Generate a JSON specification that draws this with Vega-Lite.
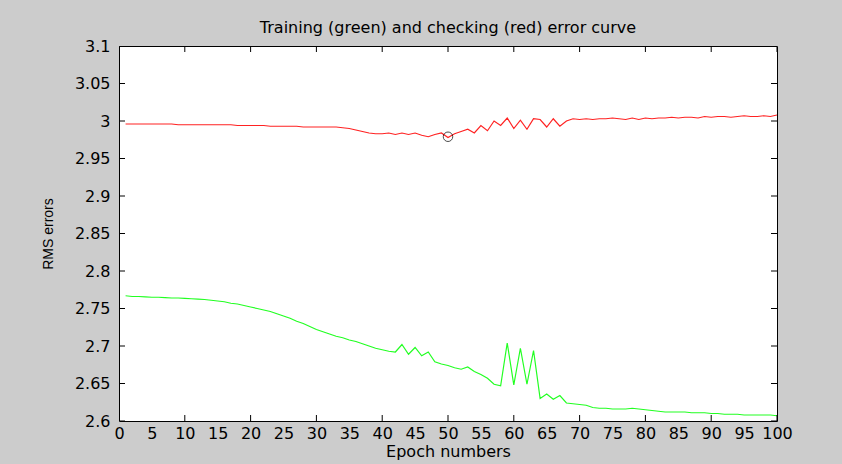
{
  "$schema": "https://vega.github.io/schema/vega-lite/v6.json",
  "width": 658,
  "height": 375,
  "autosize": "none",
  "padding": {"left": 119, "top": 46, "right": 65, "bottom": 43},
  "background": "#cccccc",
  "title": {"text": "Training (green) and checking (red) error curve", "font": "DejaVu Sans", "fontSize": 16, "fontWeight": "normal", "color": "#000000", "offset": 2, "anchor": "middle"},
  "config": {
    "view": {"fill": "#ffffff", "stroke": "#000000", "strokeWidth": 1},
    "axis": {"domain": false, "ticks": false, "tickSize": 0, "grid": false, "labelColor": "#000000", "titleColor": "#000000", "labelFont": "DejaVu Sans", "titleFont": "DejaVu Sans", "labelFontSize": 16, "titleFontSize": 16, "titleFontWeight": "normal", "labelFlush": false, "labelOverlap": false, "zindex": 3},
    "axisX": {"orient": "bottom", "title": "Epoch numbers", "values": [0,10,20,30,40,50,60,70,80,90,100], "labelPadding": 4, "titlePadding": 2},
    "axisY": {"orient": "left", "title": "RMS errors", "titleFont": "Liberation Sans", "titleFontSize": 14, "format": "~g", "values": [2.6,2.65,2.7,2.75,2.8,2.85,2.9,2.95,3.0,3.05,3.1], "labelPadding": 9, "titlePadding": 19}
  },
  "datasets": {
    "curves": [
      {"epoch":1,"series":"training","rms":2.767},{"epoch":2,"series":"training","rms":2.766},{"epoch":3,"series":"training","rms":2.766},{"epoch":4,"series":"training","rms":2.7655},{"epoch":5,"series":"training","rms":2.765},{"epoch":6,"series":"training","rms":2.765},{"epoch":7,"series":"training","rms":2.7645},{"epoch":8,"series":"training","rms":2.764},{"epoch":9,"series":"training","rms":2.764},{"epoch":10,"series":"training","rms":2.7635},
      {"epoch":11,"series":"training","rms":2.763},{"epoch":12,"series":"training","rms":2.7625},{"epoch":13,"series":"training","rms":2.762},{"epoch":14,"series":"training","rms":2.761},{"epoch":15,"series":"training","rms":2.76},{"epoch":16,"series":"training","rms":2.759},{"epoch":17,"series":"training","rms":2.757},{"epoch":18,"series":"training","rms":2.756},{"epoch":19,"series":"training","rms":2.754},{"epoch":20,"series":"training","rms":2.752},
      {"epoch":21,"series":"training","rms":2.75},{"epoch":22,"series":"training","rms":2.748},{"epoch":23,"series":"training","rms":2.746},{"epoch":24,"series":"training","rms":2.743},{"epoch":25,"series":"training","rms":2.74},{"epoch":26,"series":"training","rms":2.737},{"epoch":27,"series":"training","rms":2.733},{"epoch":28,"series":"training","rms":2.73},{"epoch":29,"series":"training","rms":2.726},{"epoch":30,"series":"training","rms":2.722},
      {"epoch":31,"series":"training","rms":2.719},{"epoch":32,"series":"training","rms":2.716},{"epoch":33,"series":"training","rms":2.713},{"epoch":34,"series":"training","rms":2.711},{"epoch":35,"series":"training","rms":2.708},{"epoch":36,"series":"training","rms":2.706},{"epoch":37,"series":"training","rms":2.703},{"epoch":38,"series":"training","rms":2.7},{"epoch":39,"series":"training","rms":2.697},{"epoch":40,"series":"training","rms":2.695},
      {"epoch":41,"series":"training","rms":2.693},{"epoch":42,"series":"training","rms":2.692},{"epoch":43,"series":"training","rms":2.702},{"epoch":44,"series":"training","rms":2.689},{"epoch":45,"series":"training","rms":2.698},{"epoch":46,"series":"training","rms":2.687},{"epoch":47,"series":"training","rms":2.692},{"epoch":48,"series":"training","rms":2.679},{"epoch":49,"series":"training","rms":2.676},{"epoch":50,"series":"training","rms":2.674},
      {"epoch":51,"series":"training","rms":2.671},{"epoch":52,"series":"training","rms":2.669},{"epoch":53,"series":"training","rms":2.672},{"epoch":54,"series":"training","rms":2.666},{"epoch":55,"series":"training","rms":2.662},{"epoch":56,"series":"training","rms":2.657},{"epoch":57,"series":"training","rms":2.649},{"epoch":58,"series":"training","rms":2.647},{"epoch":59,"series":"training","rms":2.704},{"epoch":60,"series":"training","rms":2.648},
      {"epoch":61,"series":"training","rms":2.697},{"epoch":62,"series":"training","rms":2.649},{"epoch":63,"series":"training","rms":2.694},{"epoch":64,"series":"training","rms":2.63},{"epoch":65,"series":"training","rms":2.636},{"epoch":66,"series":"training","rms":2.629},{"epoch":67,"series":"training","rms":2.634},{"epoch":68,"series":"training","rms":2.624},{"epoch":69,"series":"training","rms":2.623},{"epoch":70,"series":"training","rms":2.622},
      {"epoch":71,"series":"training","rms":2.621},{"epoch":72,"series":"training","rms":2.618},{"epoch":73,"series":"training","rms":2.617},{"epoch":74,"series":"training","rms":2.617},{"epoch":75,"series":"training","rms":2.616},{"epoch":76,"series":"training","rms":2.616},{"epoch":77,"series":"training","rms":2.616},{"epoch":78,"series":"training","rms":2.617},{"epoch":79,"series":"training","rms":2.616},{"epoch":80,"series":"training","rms":2.615},
      {"epoch":81,"series":"training","rms":2.614},{"epoch":82,"series":"training","rms":2.613},{"epoch":83,"series":"training","rms":2.612},{"epoch":84,"series":"training","rms":2.612},{"epoch":85,"series":"training","rms":2.612},{"epoch":86,"series":"training","rms":2.612},{"epoch":87,"series":"training","rms":2.611},{"epoch":88,"series":"training","rms":2.611},{"epoch":89,"series":"training","rms":2.611},{"epoch":90,"series":"training","rms":2.61},
      {"epoch":91,"series":"training","rms":2.61},{"epoch":92,"series":"training","rms":2.609},{"epoch":93,"series":"training","rms":2.609},{"epoch":94,"series":"training","rms":2.609},{"epoch":95,"series":"training","rms":2.608},{"epoch":96,"series":"training","rms":2.608},{"epoch":97,"series":"training","rms":2.608},{"epoch":98,"series":"training","rms":2.608},{"epoch":99,"series":"training","rms":2.608},{"epoch":100,"series":"training","rms":2.607},
      {"epoch":1,"series":"checking","rms":2.996},{"epoch":2,"series":"checking","rms":2.996},{"epoch":3,"series":"checking","rms":2.996},{"epoch":4,"series":"checking","rms":2.996},{"epoch":5,"series":"checking","rms":2.996},{"epoch":6,"series":"checking","rms":2.996},{"epoch":7,"series":"checking","rms":2.996},{"epoch":8,"series":"checking","rms":2.996},{"epoch":9,"series":"checking","rms":2.995},{"epoch":10,"series":"checking","rms":2.995},
      {"epoch":11,"series":"checking","rms":2.995},{"epoch":12,"series":"checking","rms":2.995},{"epoch":13,"series":"checking","rms":2.995},{"epoch":14,"series":"checking","rms":2.995},{"epoch":15,"series":"checking","rms":2.995},{"epoch":16,"series":"checking","rms":2.995},{"epoch":17,"series":"checking","rms":2.995},{"epoch":18,"series":"checking","rms":2.994},{"epoch":19,"series":"checking","rms":2.994},{"epoch":20,"series":"checking","rms":2.994},
      {"epoch":21,"series":"checking","rms":2.994},{"epoch":22,"series":"checking","rms":2.994},{"epoch":23,"series":"checking","rms":2.993},{"epoch":24,"series":"checking","rms":2.993},{"epoch":25,"series":"checking","rms":2.993},{"epoch":26,"series":"checking","rms":2.993},{"epoch":27,"series":"checking","rms":2.993},{"epoch":28,"series":"checking","rms":2.992},{"epoch":29,"series":"checking","rms":2.992},{"epoch":30,"series":"checking","rms":2.992},
      {"epoch":31,"series":"checking","rms":2.992},{"epoch":32,"series":"checking","rms":2.992},{"epoch":33,"series":"checking","rms":2.992},{"epoch":34,"series":"checking","rms":2.991},{"epoch":35,"series":"checking","rms":2.99},{"epoch":36,"series":"checking","rms":2.988},{"epoch":37,"series":"checking","rms":2.986},{"epoch":38,"series":"checking","rms":2.984},{"epoch":39,"series":"checking","rms":2.983},{"epoch":40,"series":"checking","rms":2.983},
      {"epoch":41,"series":"checking","rms":2.984},{"epoch":42,"series":"checking","rms":2.982},{"epoch":43,"series":"checking","rms":2.984},{"epoch":44,"series":"checking","rms":2.982},{"epoch":45,"series":"checking","rms":2.984},{"epoch":46,"series":"checking","rms":2.981},{"epoch":47,"series":"checking","rms":2.979},{"epoch":48,"series":"checking","rms":2.982},{"epoch":49,"series":"checking","rms":2.984},{"epoch":50,"series":"checking","rms":2.978},
      {"epoch":51,"series":"checking","rms":2.983},{"epoch":52,"series":"checking","rms":2.986},{"epoch":53,"series":"checking","rms":2.989},{"epoch":54,"series":"checking","rms":2.984},{"epoch":55,"series":"checking","rms":2.994},{"epoch":56,"series":"checking","rms":2.987},{"epoch":57,"series":"checking","rms":3.0},{"epoch":58,"series":"checking","rms":2.994},{"epoch":59,"series":"checking","rms":3.004},{"epoch":60,"series":"checking","rms":2.99},
      {"epoch":61,"series":"checking","rms":3.001},{"epoch":62,"series":"checking","rms":2.989},{"epoch":63,"series":"checking","rms":3.003},{"epoch":64,"series":"checking","rms":3.002},{"epoch":65,"series":"checking","rms":2.992},{"epoch":66,"series":"checking","rms":3.003},{"epoch":67,"series":"checking","rms":2.993},{"epoch":68,"series":"checking","rms":3.0},{"epoch":69,"series":"checking","rms":3.003},{"epoch":70,"series":"checking","rms":3.002},
      {"epoch":71,"series":"checking","rms":3.003},{"epoch":72,"series":"checking","rms":3.002},{"epoch":73,"series":"checking","rms":3.003},{"epoch":74,"series":"checking","rms":3.003},{"epoch":75,"series":"checking","rms":3.004},{"epoch":76,"series":"checking","rms":3.003},{"epoch":77,"series":"checking","rms":3.002},{"epoch":78,"series":"checking","rms":3.004},{"epoch":79,"series":"checking","rms":3.002},{"epoch":80,"series":"checking","rms":3.004},
      {"epoch":81,"series":"checking","rms":3.003},{"epoch":82,"series":"checking","rms":3.004},{"epoch":83,"series":"checking","rms":3.004},{"epoch":84,"series":"checking","rms":3.005},{"epoch":85,"series":"checking","rms":3.004},{"epoch":86,"series":"checking","rms":3.005},{"epoch":87,"series":"checking","rms":3.005},{"epoch":88,"series":"checking","rms":3.004},{"epoch":89,"series":"checking","rms":3.006},{"epoch":90,"series":"checking","rms":3.005},
      {"epoch":91,"series":"checking","rms":3.006},{"epoch":92,"series":"checking","rms":3.006},{"epoch":93,"series":"checking","rms":3.005},{"epoch":94,"series":"checking","rms":3.006},{"epoch":95,"series":"checking","rms":3.007},{"epoch":96,"series":"checking","rms":3.006},{"epoch":97,"series":"checking","rms":3.006},{"epoch":98,"series":"checking","rms":3.007},{"epoch":99,"series":"checking","rms":3.006},{"epoch":100,"series":"checking","rms":3.008}
    ],
    "best": [{"epoch": 50, "rms": 2.979}],
    "xticks": [{"v": 0}, {"v": 10}, {"v": 20}, {"v": 30}, {"v": 40}, {"v": 50}, {"v": 60}, {"v": 70}, {"v": 80}, {"v": 90}, {"v": 100}],
    "yticks": [{"v": 2.6}, {"v": 2.65}, {"v": 2.7}, {"v": 2.75}, {"v": 2.8}, {"v": 2.85}, {"v": 2.9}, {"v": 2.95}, {"v": 3.0}, {"v": 3.05}, {"v": 3.1}]
  },
  "layer": [
    {
      "data": {"name": "curves"},
      "mark": {"type": "line", "strokeWidth": 1.2, "clip": true},
      "encoding": {
        "x": {"field": "epoch", "type": "quantitative", "title": "Epoch numbers", "scale": {"domain": [0, 100], "nice": false, "zero": false}},
        "y": {"field": "rms", "type": "quantitative", "title": "RMS errors", "scale": {"domain": [2.6, 3.1], "nice": false, "zero": false}},
        "color": {"field": "series", "type": "nominal", "scale": {"domain": ["training", "checking"], "range": ["#22ff22", "#ff2222"]}, "legend": null}
      }
    },
    {
      "data": {"name": "best"},
      "mark": {"type": "point", "shape": "circle", "size": 90, "filled": false, "stroke": "#000000", "strokeWidth": 1},
      "encoding": {
        "x": {"field": "epoch", "type": "quantitative", "title": "Epoch numbers"},
        "y": {"field": "rms", "type": "quantitative", "title": "RMS errors"}
      }
    },
    {
      "data": {"name": "xticks"},
      "mark": {"type": "tick", "orient": "vertical", "size": 12, "thickness": 1, "color": "#000000", "opacity": 1, "clip": true},
      "encoding": {
        "x": {"field": "v", "type": "quantitative", "title": "Epoch numbers"},
        "y": {"datum": 2.6, "type": "quantitative", "title": "RMS errors"}
      }
    },
    {
      "data": {"name": "xticks"},
      "mark": {"type": "tick", "orient": "vertical", "size": 12, "thickness": 1, "color": "#000000", "opacity": 1, "clip": true},
      "encoding": {
        "x": {"field": "v", "type": "quantitative", "title": "Epoch numbers"},
        "y": {"datum": 3.1, "type": "quantitative", "title": "RMS errors"}
      }
    },
    {
      "data": {"name": "yticks"},
      "mark": {"type": "tick", "orient": "horizontal", "size": 12, "thickness": 1, "color": "#000000", "opacity": 1, "clip": true},
      "encoding": {
        "y": {"field": "v", "type": "quantitative", "title": "RMS errors"},
        "x": {"datum": 0, "type": "quantitative", "title": "Epoch numbers"}
      }
    },
    {
      "data": {"name": "yticks"},
      "mark": {"type": "tick", "orient": "horizontal", "size": 12, "thickness": 1, "color": "#000000", "opacity": 1, "clip": true},
      "encoding": {
        "y": {"field": "v", "type": "quantitative", "title": "RMS errors"},
        "x": {"datum": 100, "type": "quantitative", "title": "Epoch numbers"}
      }
    }
  ]
}
